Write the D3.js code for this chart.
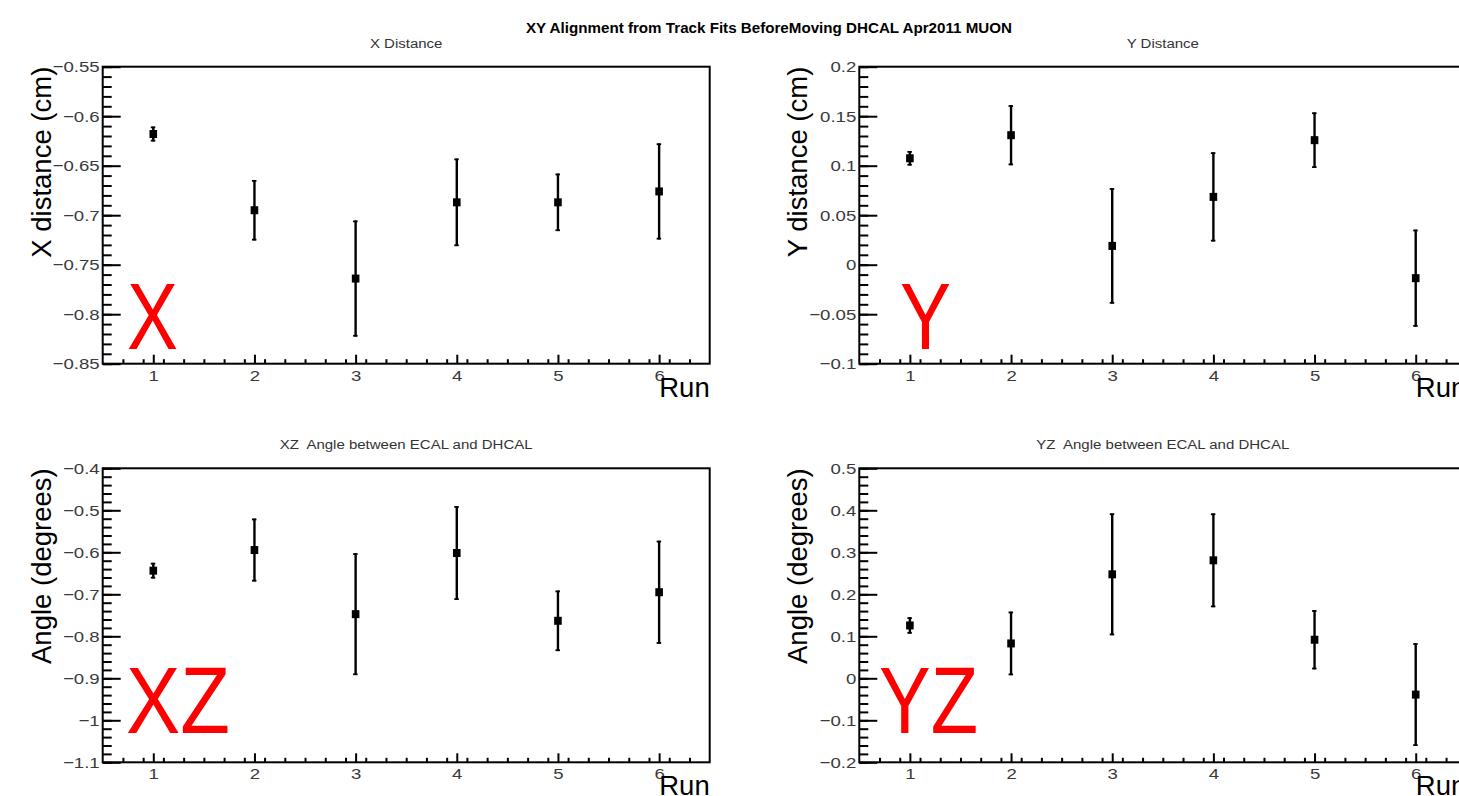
<!DOCTYPE html>
<html><head><meta charset="utf-8">
<script src="https://cdn.jsdelivr.net/npm/d3@7"></script>
<style>
html,body{margin:0;padding:0;background:#fff;overflow:hidden}
svg{display:block}
text{font-family:"Liberation Sans",Arial,Helvetica,sans-serif}
</style></head><body><svg id="c" width="1459" height="796"></svg>
<script>
// ---------------- data ----------------
const runs = [1, 2, 3, 4, 5, 6];
const runTicks = [1, 2, 3, 4, 5, 6];

const xDistance    = [-0.618, -0.695, -0.764, -0.687, -0.687, -0.676];
const xDistanceErr = [0.0075, 0.0305, 0.0586, 0.0442, 0.029, 0.0485];

const yDistance    = [0.1075, 0.1308, 0.019, 0.0685, 0.1258, -0.0136];
const yDistanceErr = [0.0073, 0.0303, 0.0583, 0.045, 0.028, 0.049];

const xzAngle    = [-0.6437, -0.5946, -0.7473, -0.6017, -0.7631, -0.6951];
const xzAngleErr = [0.0186, 0.0748, 0.145, 0.1116, 0.072, 0.1226];

const yzAngle    = [0.1258, 0.083, 0.2476, 0.2809, 0.0918, -0.0388];
const yzAngleErr = [0.0194, 0.0756, 0.145, 0.1116, 0.0704, 0.1222];

const xDistTicks = [-0.85, -0.8, -0.75, -0.7, -0.65, -0.6, -0.55];
const yDistTicks = [-0.1, -0.05, 0, 0.05, 0.1, 0.15, 0.2];
const xzTicks    = [-1.1, -1, -0.9, -0.8, -0.7, -0.6, -0.5, -0.4];
const yzTicks    = [-0.2, -0.1, 0, 0.1, 0.2, 0.3, 0.4, 0.5];

const mainTitle   = "XY Alignment from Track Fits BeforeMoving DHCAL Apr2011 MUON";
const panelTitles = ["X Distance", "Y Distance", "XZ  Angle between ECAL and DHCAL", "YZ  Angle between ECAL and DHCAL"];
const yTitles     = ["X distance (cm)", "Y distance (cm)", "Angle (degrees)", "Angle (degrees)"];
const xTitle      = "Run";
const bigLabels   = ["X", "Y", "XZ", "YZ"];

// ---------------- layout ----------------
const svg = d3.select("#c");
const HSTRETCH = 1.2;
function stretch(sel, f) {
  sel.each(function () {
    const L = this.getComputedTextLength();
    d3.select(this).attr("textLength", L * f).attr("lengthAdjust", "spacingAndGlyphs");
  });
}

const panels = [
  {vals: xDistance, errs: xDistanceErr, ticks: xDistTicks, minor: 0.01, left: 102.7, top: 66.7, w: 607, h: 297, bigX: 127, bigW: 51, bigY: 349},
  {vals: yDistance, errs: yDistanceErr, ticks: yDistTicks, minor: 0.01, left: 859.3, top: 66.7, w: 607, h: 297, bigX: 900, bigW: 51, bigY: 349},
  {vals: xzAngle,   errs: xzAngleErr,   ticks: xzTicks,    minor: 0.02, left: 102.7, top: 468.3, w: 607, h: 294, bigX: 126, bigW: 104, bigY: 733},
  {vals: yzAngle,   errs: yzAngleErr,   ticks: yzTicks,    minor: 0.02, left: 859.3, top: 468.3, w: 607, h: 294, bigX: 879, bigW: 99, bigY: 733}
];

// main title
const mt = svg.append("text").attr("x", 769).attr("y", 33).attr("text-anchor", "middle")
  .attr("font-size", 14).attr("font-weight", "bold").attr("fill", "#000").text(mainTitle);
mt.attr("textLength", 486).attr("lengthAdjust", "spacingAndGlyphs");

panels.forEach((p, i) => {
  const g = svg.append("g");
  const x = d3.scaleLinear().domain([0.5, 6.5]).range([p.left, p.left + p.w]);
  const ext = d3.extent(p.ticks);
  const y = d3.scaleLinear().domain(ext).range([p.top + p.h, p.top]);
  const fmt = d3.format("~g");

  // minor ticks
  const nMinor = Math.round((ext[1] - ext[0]) / p.minor);
  const minorVals = d3.range(nMinor + 1).map(k => +(ext[0] + k * p.minor).toFixed(4));
  const xMinorVals = d3.range(31).map(k => +(0.5 + k * 0.2).toFixed(2)).filter(v => v > 0.5 && v < 6.5);

  g.append("g").attr("transform", `translate(${p.left},0)`)
    .call(d3.axisLeft(y).tickValues(minorVals).tickSize(-9).tickFormat(""))
    .call(a => a.select(".domain").remove())
    .call(a => a.selectAll("line").attr("stroke", "#000").attr("stroke-width", 2));
  g.append("g").attr("transform", `translate(0,${p.top + p.h})`)
    .call(d3.axisBottom(x).tickValues(xMinorVals).tickSize(-4.5).tickFormat(""))
    .call(a => a.select(".domain").remove())
    .call(a => a.selectAll("line").attr("stroke", "#000").attr("stroke-width", 2));

  // major ticks + labels
  const ya = g.append("g").attr("transform", `translate(${p.left},0)`)
    .call(d3.axisLeft(y).tickValues(p.ticks).tickSize(-18).tickPadding(3).tickFormat(fmt))
    .call(a => a.select(".domain").remove())
    .call(a => a.selectAll("line").attr("stroke", "#000").attr("stroke-width", 2))
    .call(a => a.selectAll("text").attr("font-size", 15.5).attr("fill", "#3a3a3a")
      .attr("font-family", '"Liberation Sans",Arial,sans-serif'));
  stretch(ya.selectAll("text"), HSTRETCH);

  const xa = g.append("g").attr("transform", `translate(0,${p.top + p.h})`)
    .call(d3.axisBottom(x).tickValues(runTicks).tickSize(-9).tickPadding(6).tickFormat(d3.format("d")))
    .call(a => a.select(".domain").remove())
    .call(a => a.selectAll("line").attr("stroke", "#000").attr("stroke-width", 2))
    .call(a => a.selectAll("text").attr("font-size", 15.5).attr("fill", "#3a3a3a")
      .attr("font-family", '"Liberation Sans",Arial,sans-serif'));
  stretch(xa.selectAll("text"), HSTRETCH);

  // frame
  g.append("rect").attr("x", p.left).attr("y", p.top).attr("width", p.w).attr("height", p.h)
    .attr("fill", "none").attr("stroke", "#000").attr("stroke-width", 2);

  // panel title
  const pt = g.append("text").attr("x", p.left + p.w / 2).attr("y", p.top - 19)
    .attr("text-anchor", "middle").attr("font-size", 12.5).attr("fill", "#333")
    .style("white-space", "pre").text(panelTitles[i]);
  stretch(pt, HSTRETCH);

  // y title
  g.append("text").attr("transform", `translate(${p.left - 52},${p.top}) rotate(-90)`)
    .attr("text-anchor", "end").attr("font-size", 27.5).attr("fill", "#000").text(yTitles[i]);

  // x title
  g.append("text").attr("x", p.left + p.w).attr("y", p.top + p.h + 33)
    .attr("text-anchor", "end").attr("font-size", 27.5).attr("fill", "#000").text(xTitle);

  // error bars + markers
  const pts = runs.map((r, k) => ({r, v: p.vals[k], e: p.errs[k]}));
  const eb = g.append("g");
  eb.selectAll("line.err").data(pts).join("line").attr("class", "err")
    .attr("x1", d => x(d.r)).attr("x2", d => x(d.r))
    .attr("y1", d => y(d.v + d.e)).attr("y2", d => y(d.v - d.e))
    .attr("stroke", "#000").attr("stroke-width", 2.4);
  eb.selectAll("line.capt").data(pts).join("line").attr("class", "capt")
    .attr("x1", d => x(d.r) - 2.5).attr("x2", d => x(d.r) + 2)
    .attr("y1", d => y(d.v + d.e) + 0.8).attr("y2", d => y(d.v + d.e) + 0.8)
    .attr("stroke", "#000").attr("stroke-width", 1.8);
  eb.selectAll("line.capb").data(pts).join("line").attr("class", "capb")
    .attr("x1", d => x(d.r) - 2.5).attr("x2", d => x(d.r) + 2)
    .attr("y1", d => y(d.v - d.e) - 0.8).attr("y2", d => y(d.v - d.e) - 0.8)
    .attr("stroke", "#000").attr("stroke-width", 1.8);
  eb.selectAll("rect.mk").data(pts).join("rect").attr("class", "mk")
    .attr("x", d => x(d.r) - 3.8).attr("y", d => y(d.v) - 4)
    .attr("width", 7.6).attr("height", 8).attr("fill", "#000");

  // big red label
  g.append("text").attr("x", p.bigX).attr("y", p.bigY).attr("font-size", 94)
    .attr("fill", "#ff0000").attr("textLength", p.bigW).attr("lengthAdjust", "spacingAndGlyphs")
    .text(bigLabels[i]);
});
</script></body></html>
